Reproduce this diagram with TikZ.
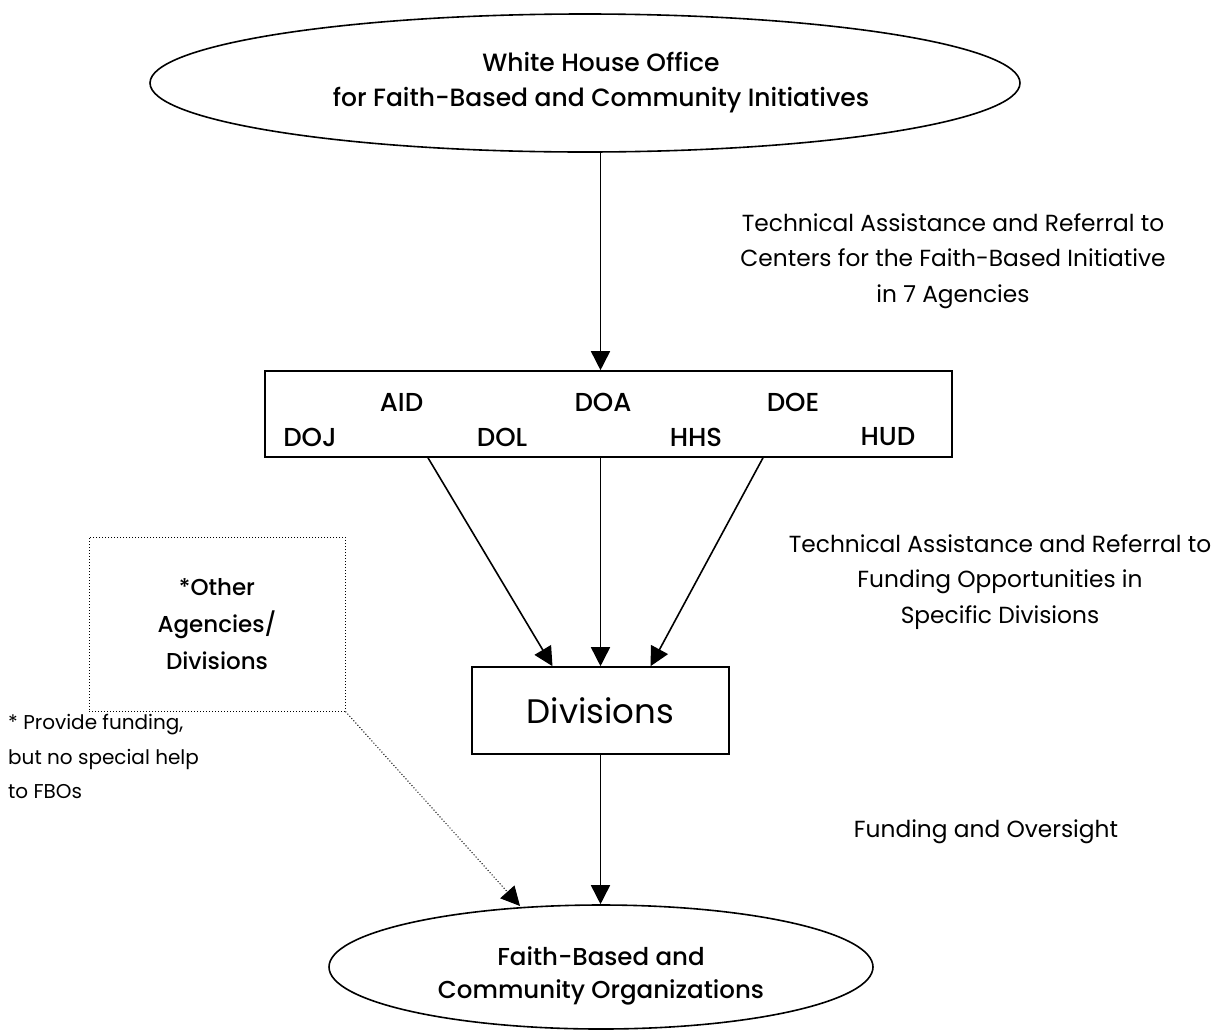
\documentclass[tikz,border=0pt]{standalone}
\usepackage{fontspec}
\setmainfont{Poppins}
\newfontfamily\medfont{Poppins Medium}
\usetikzlibrary{shapes.geometric,arrows.meta}
\begin{document}
\begin{tikzpicture}[x=1pt,y=-1pt,
  conn/.style={line width=1.6pt,-{Triangle[length=19pt,width=19pt]}},
  dotconn/.style={line width=1pt,dotted,-{Triangle[length=19pt,width=19pt]}},
  oval/.style={draw,line width=1.6pt,ellipse,inner sep=0pt},
  box/.style={draw,line width=1.6pt,rectangle,inner sep=0pt},
  agency/.style={font=\medfont\fontsize{26}{30}\selectfont,inner sep=0pt},
  lbl/.style={font=\fontsize{23.3}{35.5}\selectfont,align=center,inner sep=0pt},
  ]
\useasboundingbox (0,0) rectangle (1226,1034);
\fill[white] (0,0) rectangle (1226,1034);

% top ellipse
\node[oval,minimum width=870pt,minimum height=138pt] (wh) at (585,83) {};
\node[align=center,inner sep=0pt,font=\medfont\fontsize{25}{35}\selectfont] (wht) at (601,82.5)
  {White House Office\\for Faith-Based and Community Initiatives};

% agencies box
\node[box,minimum width=687pt,minimum height=86pt] (ag) at (608.5,414) {};
\node[agency] (aid) at (401.5,402) {AID};
\node[agency] (doa) at (603,402) {DOA};
\node[agency] (doe) at (793,402) {DOE};
\node[agency] (doj) at (310,437) {DOJ};
\node[agency] (dol) at (502,437) {DOL};
\node[agency] (hhs) at (696,437) {HHS};
\node[agency] (hud) at (888,437) {HUD};

% divisions
\node[box,minimum width=257pt,minimum height=87pt,font=\fontsize{34}{38}\selectfont] (div) at (600.5,710.5) {Divisions};

% bottom ellipse
\node[oval,minimum width=544pt,minimum height=124pt] (fbo) at (601,967) {};
\node[align=center,inner sep=0pt,font=\medfont\fontsize{24.5}{33}\selectfont] (fbot) at (601,976)
  {Faith-Based and\\Community Organizations};

% other agencies
\node[draw,line width=1pt,dotted,rectangle,minimum width=256pt,minimum height=174pt,inner sep=0pt,align=center,
  font=\medfont\fontsize{23}{37}\selectfont] (oth) at (217,624) {*Other\\Agencies/\\Divisions};

\node[anchor=north west,align=left,inner sep=0pt,font=\fontsize{20}{34.5}\selectfont] (note) at (8,714.5)
  {* Provide funding,\\but no special help\\to FBOs};

% labels
\node[lbl] (l1) at (953,261) {Technical Assistance and Referral to\\Centers for the Faith-Based Initiative\\in 7 Agencies};
\node[lbl] (l2) at (1000,582) {Technical Assistance and Referral to\\Funding Opportunities in\\Specific Divisions};
\node[lbl] (l3) at (986,832) {Funding and Oversight};

\coordinate (ot) at (520,906);

% connectors
\draw[conn] (wh.south -| div.north) -- (ag.north -| div.north);
\draw[conn] ([xshift=-180.5pt]ag.south) -- ([xshift=-48pt]div.north);
\draw[conn] (ag.south -| div.north) -- (div.north);
\draw[conn] ([xshift=154.5pt]ag.south) -- ([xshift=50pt]div.north);
\draw[conn] (div.south) -- (fbo.north -| div.south);
\draw[dotconn] (oth.south east) -- (ot);
\end{tikzpicture}
\end{document}
